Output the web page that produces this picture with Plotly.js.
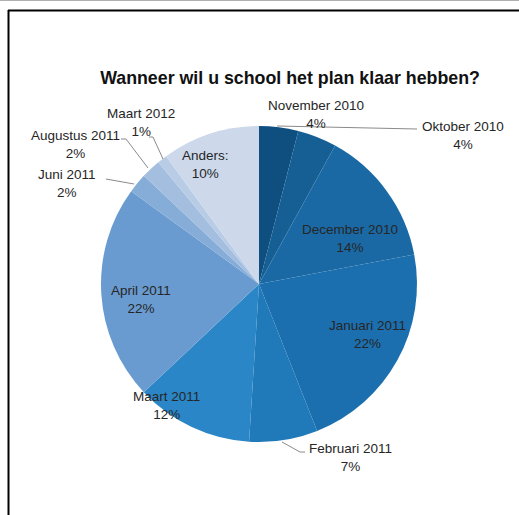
<!DOCTYPE html>
<html>
<head>
<meta charset="utf-8">
<script src="https://cdn.plot.ly/plotly-3.0.1.min.js"></script>
<style>html,body{margin:0;padding:0;background:#fff;}#chart{width:519px;height:515px;}</style>
</head>
<body>
<div id="chart"></div>
<script>
const categories = ["Oktober 2010","November 2010","December 2010","Januari 2011","Februari 2011","Maart 2011","April 2011","Juni 2011","Augustus 2011","Maart 2012","Anders:"];
const percentages = [4,4,14,22,7,12,22,2,2,1,10];
const sliceColors = ["#0f4f80","#155f95","#1a69a4","#1c6fae","#2079b8","#2a86c6","#6a9bd0","#86acd8","#a3bedf","#b9cce6","#cdd9ea"];

const W = 519, H = 515;
const px = x => x / W;
const py = y => 1 - y / H;

// label block centres (pixels)
const labelPos = {
  "Oktober 2010": [463, 136],
  "November 2010": [316, 114],
  "December 2010": [350, 238],
  "Januari 2011": [367, 334],
  "Februari 2011": [350, 457],
  "Maart 2011": [166, 405],
  "April 2011": [141, 299],
  "Juni 2011": [67, 183],
  "Augustus 2011": [75, 144],
  "Maart 2012": [141, 123],
  "Anders:": [205, 164]
};

const annotations = categories.map((c, i) => ({
  xref: "paper", yref: "paper",
  x: px(labelPos[c][0]), y: py(labelPos[c][1]),
  xanchor: "center", yanchor: "middle",
  text: c + "<br>" + percentages[i] + "%",
  showarrow: false,
  font: {family: "Liberation Sans, Arial, sans-serif", size: 13.5, color: "#262626"}
}));

function seg(x0, y0, x1, y1, color, width) {
  return {type: "line", xref: "paper", yref: "paper",
    x0: px(x0), y0: py(y0), x1: px(x1), y1: py(y1),
    line: {color: color, width: width}};
}

const shapes = [
  // frame
  seg(0, 0.5, 519, 0.5, "#b0b0b0", 1),
  seg(8, 10.5, 519, 10.5, "#000000", 2),
  seg(8.5, 10, 8.5, 515, "#000000", 2),
  // leader lines
  seg(277, 126, 417, 129, "#8a8a8a", 1),
  seg(282, 442, 300, 452, "#8a8a8a", 1),
  seg(300, 452, 305, 452, "#8a8a8a", 1),
  seg(106, 179, 134, 184, "#8a8a8a", 1),
  seg(121, 139, 126, 139, "#8a8a8a", 1),
  seg(126, 139, 148, 168, "#8a8a8a", 1),
  seg(149, 137, 153, 137, "#8a8a8a", 1),
  seg(153, 137, 163, 159, "#8a8a8a", 1)
];

const cx = 259, cy = 284, r = 158;
const data = [{
  type: "pie",
  labels: categories,
  values: percentages,
  sort: false,
  direction: "clockwise",
  rotation: 0,
  textinfo: "none",
  hoverinfo: "label+percent",
  marker: {colors: sliceColors, line: {width: 0}},
  domain: {x: [px(cx - r), px(cx + r)], y: [py(cy + r), py(cy - r)]},
  showlegend: false
}];

const layout = {
  width: W, height: H,
  margin: {l: 0, r: 0, t: 0, b: 0},
  paper_bgcolor: "#ffffff",
  showlegend: false,
  title: {
    text: "<b>Wanneer wil u school het plan klaar hebben?</b>",
    x: px(290), xanchor: "center",
    y: py(78), yanchor: "middle",
    font: {family: "Liberation Sans, Arial, sans-serif", size: 17.8, color: "#111111"}
  },
  annotations: annotations,
  shapes: shapes
};

Plotly.newPlot("chart", data, layout, {displayModeBar: false, staticPlot: true});
</script>
</body>
</html>
